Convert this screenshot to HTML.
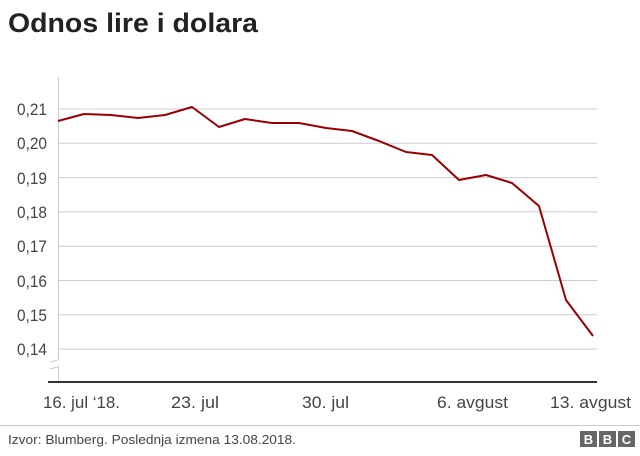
<!DOCTYPE html>
<html><head><meta charset="utf-8"><style>
body{margin:0;background:#fff;width:640px;height:451px;overflow:hidden;font-family:"Liberation Sans",Arial,sans-serif}
</style></head><body>
<svg width="640" height="451" xmlns="http://www.w3.org/2000/svg" font-family="Liberation Sans, Arial, sans-serif">
<text x="8" y="32" font-size="27" font-weight="bold" fill="#222" textLength="250" lengthAdjust="spacingAndGlyphs">Odnos lire i dolara</text>
<g stroke="#ccc" stroke-width="1">
<line x1="58" y1="109" x2="597" y2="109"/><line x1="58" y1="143.3" x2="597" y2="143.3"/>
<line x1="58" y1="177.6" x2="597" y2="177.6"/><line x1="58" y1="211.9" x2="597" y2="211.9"/>
<line x1="58" y1="246.2" x2="597" y2="246.2"/><line x1="58" y1="280.5" x2="597" y2="280.5"/>
<line x1="58" y1="314.8" x2="597" y2="314.8"/><line x1="58" y1="349.1" x2="597" y2="349.1"/>
<line x1="58.5" y1="77" x2="58.5" y2="360"/><line x1="58.5" y1="366" x2="58.5" y2="381"/>
<line x1="50" y1="362" x2="58" y2="360" /><line x1="50" y1="369" x2="58" y2="367"/>
</g>
<g font-size="17" fill="#444">
<text x="17" y="115" textLength="30" lengthAdjust="spacingAndGlyphs">0,21</text><text x="17" y="149" textLength="30" lengthAdjust="spacingAndGlyphs">0,20</text><text x="17" y="184" textLength="30" lengthAdjust="spacingAndGlyphs">0,19</text>
<text x="17" y="218" textLength="30" lengthAdjust="spacingAndGlyphs">0,18</text><text x="17" y="252" textLength="30" lengthAdjust="spacingAndGlyphs">0,17</text><text x="17" y="287" textLength="30" lengthAdjust="spacingAndGlyphs">0,16</text>
<text x="17" y="321" textLength="30" lengthAdjust="spacingAndGlyphs">0,15</text><text x="17" y="355" textLength="30" lengthAdjust="spacingAndGlyphs">0,14</text>
</g>
<line x1="48" y1="382" x2="597" y2="382" stroke="#333" stroke-width="2"/>
<polyline fill="none" stroke="#990000" stroke-width="2" stroke-linejoin="round" points="58,121 84,114 111,115 138,118 165,115 192,107 219,127 245,119 272,123 299,123 326,128 352,131 379,141 406,152 432,155 459,180 486,175 512,183 539,206 566,300 593,336"/>
<g font-size="17" fill="#444">
<text x="43" y="408" textLength="77" lengthAdjust="spacingAndGlyphs">16. jul ‘18.</text>
<text x="171" y="408" textLength="48" lengthAdjust="spacingAndGlyphs">23. jul</text>
<text x="302" y="408" textLength="47" lengthAdjust="spacingAndGlyphs">30. jul</text>
<text x="437" y="408" textLength="71" lengthAdjust="spacingAndGlyphs">6. avgust</text>
<text x="550" y="408" textLength="81" lengthAdjust="spacingAndGlyphs">13. avgust</text>
</g>
<line x1="0" y1="425.5" x2="640" y2="425.5" stroke="#ccc"/>
<text x="8" y="444" font-size="13" fill="#444" textLength="288" lengthAdjust="spacingAndGlyphs">Izvor: Blumberg. Poslednja izmena 13.08.2018.</text>
<g font-size="13" font-weight="bold" fill="#fff" text-anchor="middle">
<rect x="580" y="431" width="17" height="16" fill="#666"/><text x="588.5" y="444">B</text>
<rect x="599" y="431" width="17" height="16" fill="#666"/><text x="607.5" y="444">B</text>
<rect x="618" y="431" width="17" height="16" fill="#666"/><text x="626.5" y="444">C</text>
</g>
</svg>
</body></html>
